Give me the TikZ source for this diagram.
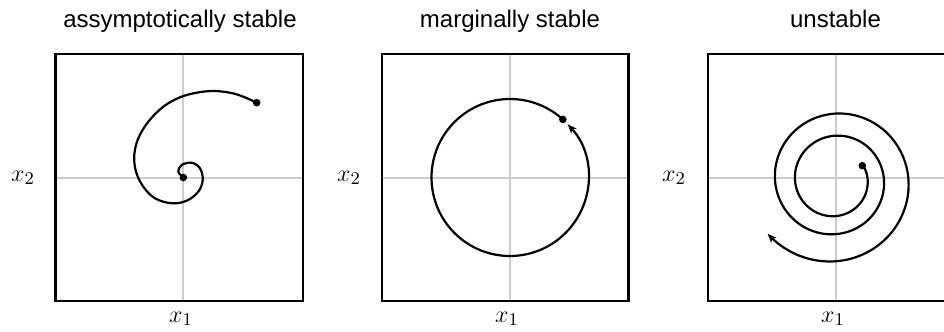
\documentclass[tikz,border=0pt]{standalone}
\usepackage{fontspec}
\newfontfamily\titlefont{Liberation Sans}
\usetikzlibrary{arrows.meta,calc}
\tikzset{
  frame/.style={line width=1.2pt, draw=black},
  axisline/.style={line width=1pt, draw=black!20},
  traj/.style={line width=1.1pt, draw=black, line cap=round},
  trajarrow/.style={traj, -{Stealth[length=4.5pt,width=3.6pt,inset=1.2pt]}},
  dotmark/.style={circle, fill=black, inner sep=0pt, minimum size=3.8pt},
  titletext/.style={font=\titlefont\fontsize{12}{14}\selectfont, anchor=base},
  axlabel/.style={font=\fontsize{13}{15}\selectfont, anchor=base},
}
\begin{document}
\begin{tikzpicture}[x=0.5pt,y=-0.5pt]
\clip (0,0) rectangle (944,332);
\useasboundingbox (0,0) rectangle (944,332);

% ---------- panel 1 ----------
\coordinate (c1) at (183.3,177.5);
\draw[axisline] (183.3,54) -- (183.3,301);
\draw[axisline] (55.5,177.5) -- (303,177.5);
\draw[frame] (55.5,54) rectangle (303,301);
\node[titletext] (t1) at (180,27) {assymptotically stable};
\node[axlabel] (y1) at (23,181) {$x_2$};
\node[axlabel] (x1) at (181,322) {$x_1$};
\node[dotmark] (s1) at (256.7,102.7) {};
\node[dotmark] (e1) at (183.3,177.5) {};
\draw[traj] plot[smooth, tension=0.6] coordinates {
 (256.7,102.7) (243.3,96.7) (230,92.7) (213.3,91) (196.7,92.7) (180,97.3)
 (163.3,106.7) (148.3,121.7) (138.3,138.3) (134.3,155) (136,171.7)
 (143.3,186.7) (155,198.3) (171.7,203.3) (186.7,200.7) (198.3,191.7)
 (202.7,180) (200,168.3) (191.7,162.7) (181.7,165) (178.3,171.7) (183.3,177.5)};

% ---------- panel 2 ----------
\coordinate (c2) at (510,177.5);
\draw[axisline] (510,54) -- (510,301);
\draw[axisline] (381.7,177.5) -- (628.3,177.5);
\draw[frame] (381.7,54) rectangle (628.3,301);
\node[titletext] (t2) at (510,27) {marginally stable};
\node[axlabel] (y2) at (349,181) {$x_2$};
\node[axlabel] (x2) at (507,322) {$x_1$};
\node[dotmark] (s2) at ($(c2)+(-47.7:78.5)$) {};
\draw[trajarrow] ($(c2)+(-47.7:78.5)$) arc[start angle=-47.7, end angle=-402.6, radius=78.5];

% ---------- panel 3 ----------
\coordinate (c3) at (835.7,177.5);
\draw[axisline] (835.7,54) -- (835.7,301);
\draw[axisline] (707.7,177.5) -- (960,177.5);
\draw[frame] (707.7,54) rectangle (954.7,301);
\node[titletext] (t3) at (835.5,27) {unstable};
\node[axlabel] (y3) at (674,181) {$x_2$};
\node[axlabel] (x3) at (833,322) {$x_1$};
\node[dotmark] (s3) at (862.3,165.7) {};
\draw[trajarrow] plot[domain=0:889, samples=300, smooth, variable=\t]
  ({835+40*exp(0.405465*(\t-207.6)/360)*cos(27.6-\t)},
   {180-40*exp(0.405465*(\t-207.6)/360)*sin(27.6-\t)});
\end{tikzpicture}
\end{document}
